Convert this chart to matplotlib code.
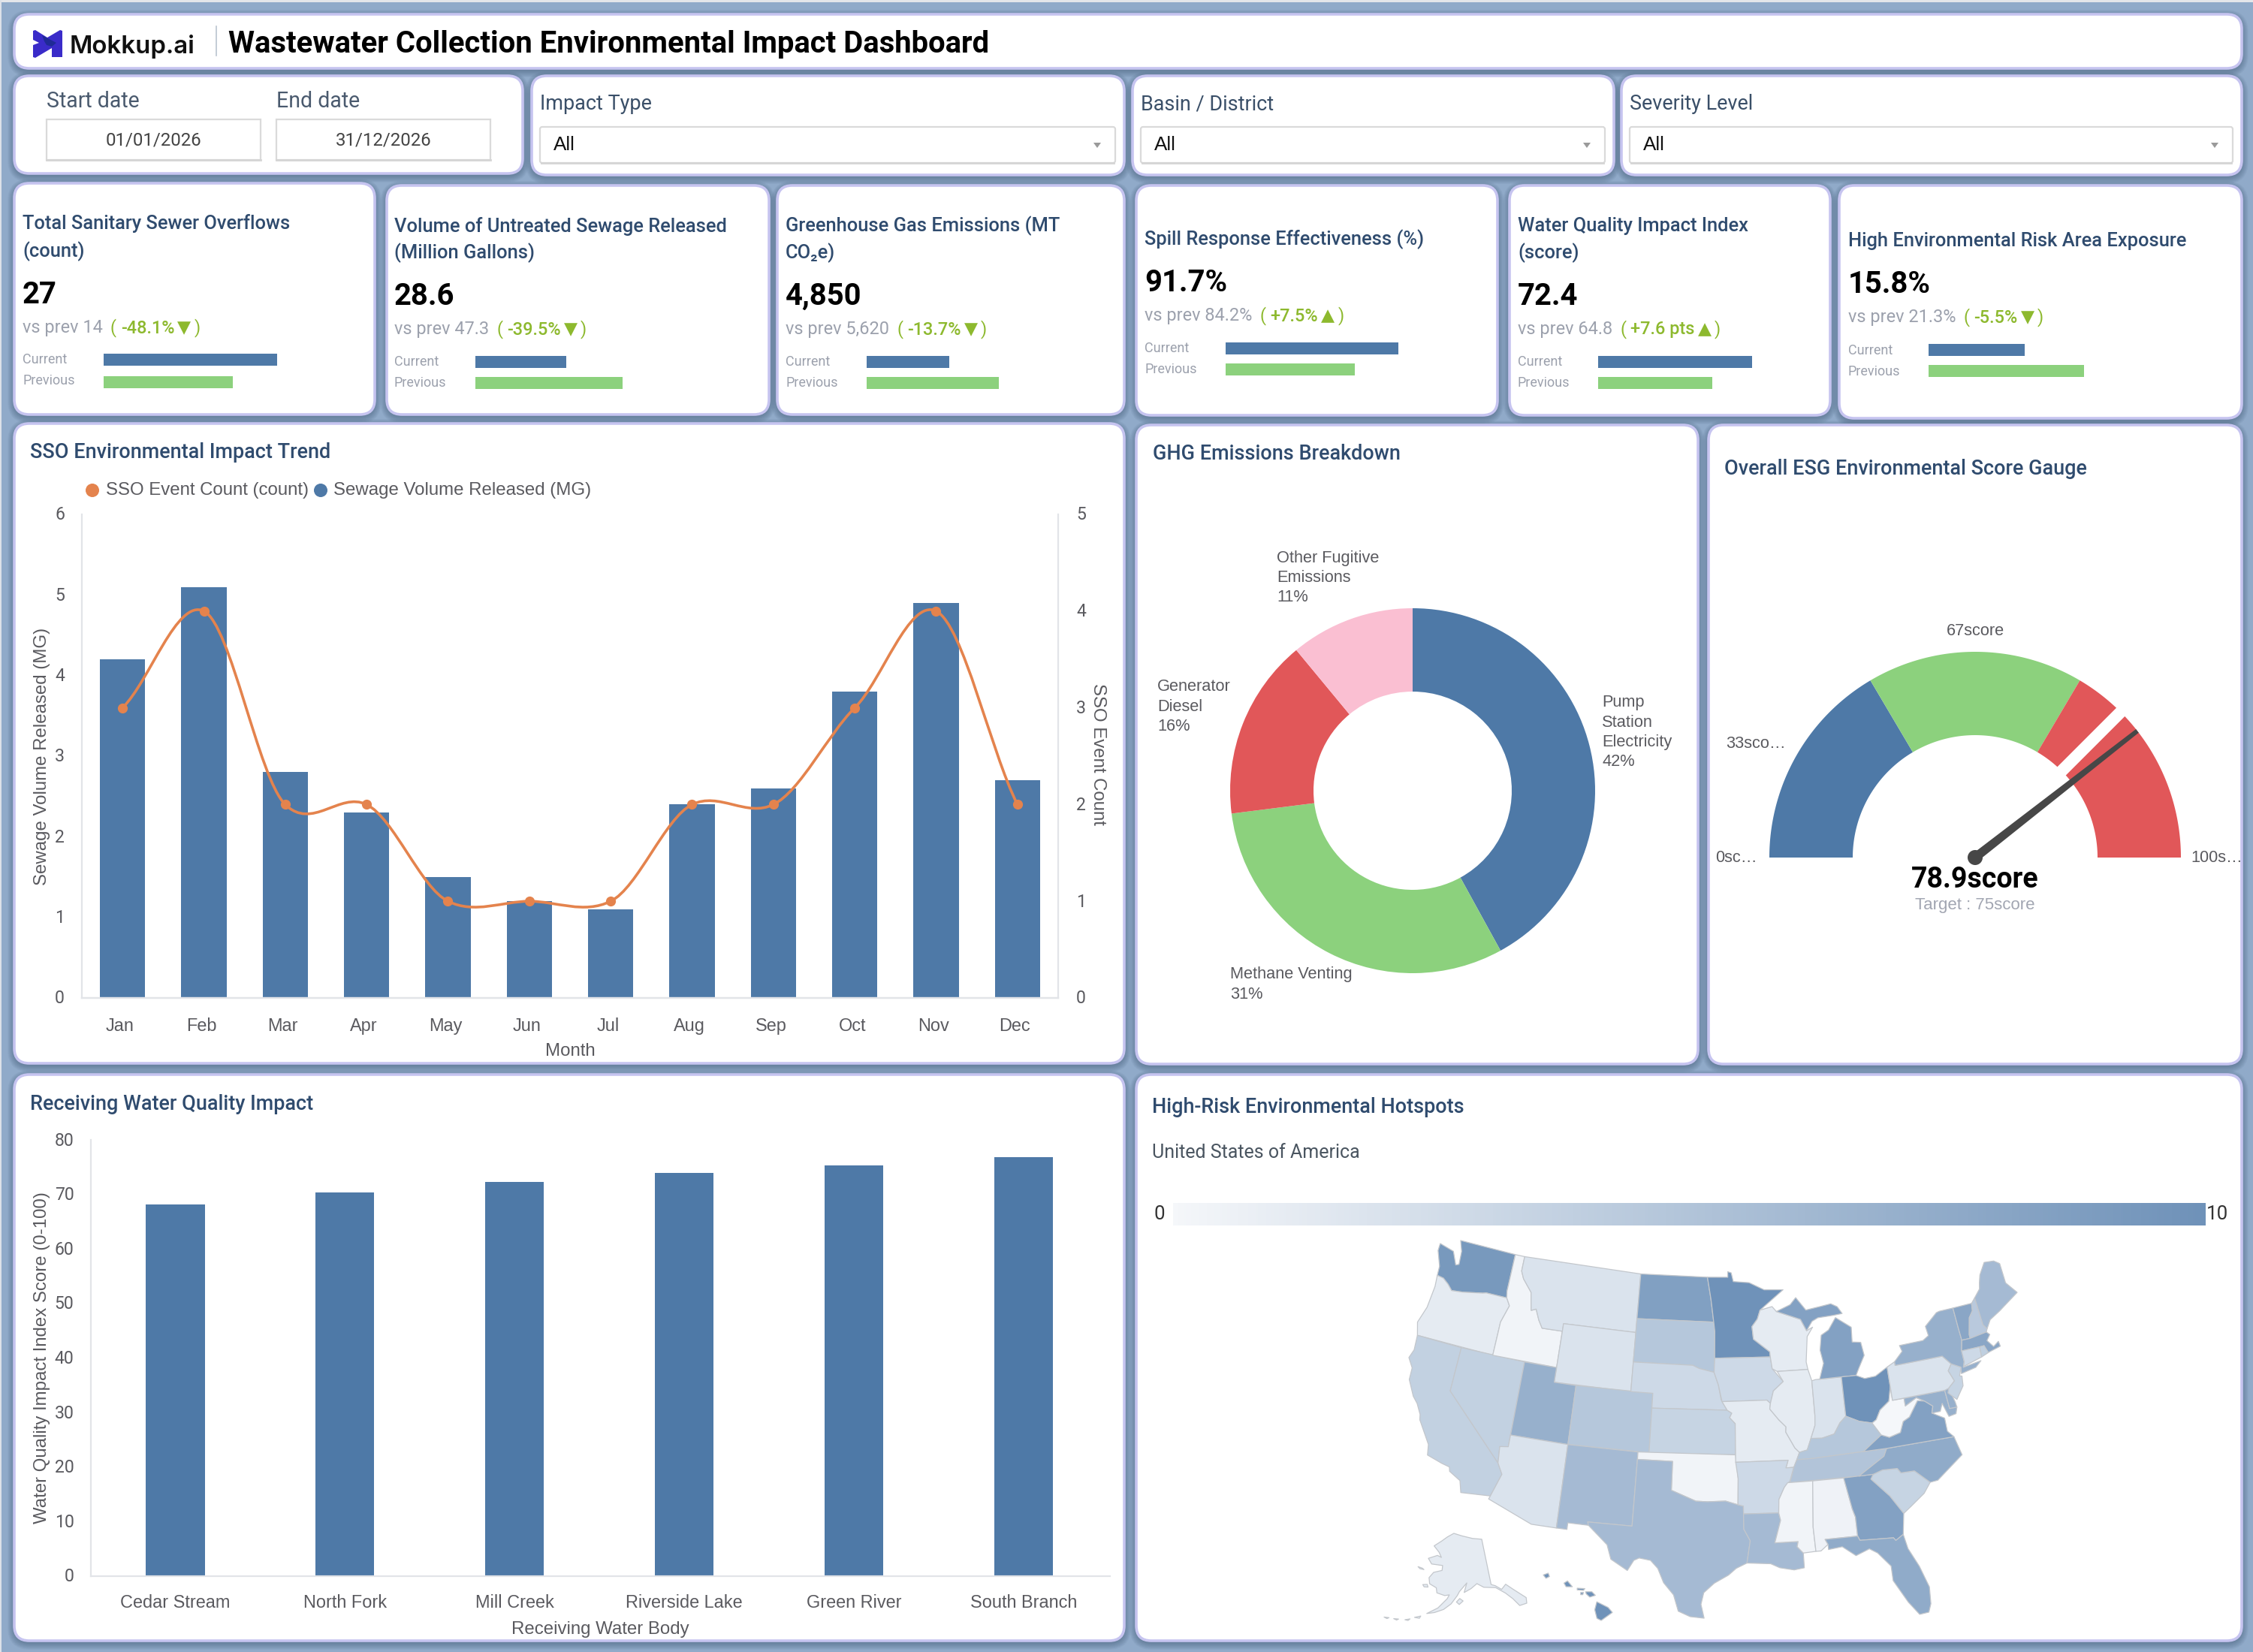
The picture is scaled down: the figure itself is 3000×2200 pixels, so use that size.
import numpy as np
import matplotlib
matplotlib.use("Agg")
import matplotlib.pyplot as plt
from matplotlib.patches import FancyBboxPatch, Polygon, Rectangle, Circle, PathPatch
from matplotlib.path import Path
from matplotlib.colors import LinearSegmentedColormap, Normalize
from matplotlib.transforms import ScaledTranslation

plt.rcParams['font.family'] = ['Roboto', 'DejaVu Sans']

BG = '#90AAC9'
EDGE = '#C6C4F0'
NAVY = '#2F4B6E'
BLUE = '#4E79A7'
GREEN = '#8CD17D'
RED = '#E15759'
PINK = '#FABFD2'
ORANGE = '#E4834D'
TREND = '#8DB92E'
GREY = '#9CA1AD'
AXIS_TXT = '#5A5A5F'
AXIS_LINE = '#E2E4E8'
ARIAL = 'Liberation Sans'

# kpi cards
kpi_titles = [['Total Sanitary Sewer Overflows', '(count)'],
              ['Volume of Untreated Sewage Released', '(Million Gallons)'],
              ['Greenhouse Gas Emissions (MT', 'CO₂e)'],
              ['Spill Response Effectiveness (%)'],
              ['Water Quality Impact Index', '(score)'],
              ['High Environmental Risk Area Exposure']]
kpi_values = ['27', '28.6', '4,850', '91.7%', '72.4', '15.8%']
kpi_prev = ['vs prev 14', 'vs prev 47.3', 'vs prev 5,620', 'vs prev 84.2%', 'vs prev 64.8', 'vs prev 21.3%']
kpi_delta = ['-48.1%', '-39.5%', '-13.7%', '+7.5%', '+7.6 pts', '-5.5%']
kpi_arrow = ['▼', '▼', '▼', '▲', '▲', '▼']
kpi_bar_current = [231, 121, 110, 230, 205, 128]
kpi_bar_previous = [172, 196, 176, 172, 152, 207]

# trend chart
months = ['Jan', 'Feb', 'Mar', 'Apr', 'May', 'Jun', 'Jul', 'Aug', 'Sep', 'Oct', 'Nov', 'Dec']
volume_mg = [4.2, 5.1, 2.8, 2.3, 1.5, 1.2, 1.1, 2.4, 2.6, 3.8, 4.9, 2.7]
event_count = [3, 4, 2, 2, 1, 1, 1, 2, 2, 3, 4, 2]

# ghg donut
ghg_labels = [['Pump', 'Station', 'Electricity', '42%'],
              ['Methane Venting', '31%'],
              ['Generator', 'Diesel', '16%'],
              ['Other Fugitive', 'Emissions', '11%']]
ghg_share = [42, 31, 16, 11]
ghg_colors = [BLUE, GREEN, RED, PINK]

# gauge
gauge_stops = [0, 33, 67, 100]
gauge_colors = [BLUE, GREEN, RED]
gauge_score = 78.9
gauge_target = 75

# water quality bars
water_bodies = ['Cedar Stream', 'North Fork', 'Mill Creek', 'Riverside Lake', 'Green River', 'South Branch']
water_scores = [68.1, 70.4, 72.3, 74.0, 75.3, 76.8]

# hotspot counts per state
state_values = {
    'WA': 9.3, 'OR': 1.2, 'CA': 3.8, 'NV': 3.8, 'ID': 0.3, 'MT': 2, 'WY': 2, 'UT': 7, 'CO': 4.8, 'AZ': 2, 'NM': 6,
    'ND': 8.6, 'SD': 4.8, 'NE': 3, 'KS': 3.5, 'OK': 0.3, 'TX': 6, 'MN': 10, 'IA': 3, 'MO': 1.2, 'AR': 3, 'LA': 6,
    'WI': 1.2, 'IL': 1.2, 'IN': 2, 'MIL': 8.5, 'MIU': 8.5, 'OH': 10, 'KY': 4.8, 'TN': 5, 'MS': 0.3, 'AL': 0.5,
    'GA': 8.5, 'FL': 7.5, 'SC': 3.5, 'NC': 7.5, 'VA': 8.5, 'WV': 0, 'MD': 7, 'DE': 7, 'PA': 2, 'NJ': 3.5,
    'NY': 7, 'VT': 8, 'NH': 4.5, 'ME': 6, 'MA': 8, 'CT': 3, 'RI': 4}
alaska_value = 1.2
hawaii_value = 10

# simplified state outlines, lon/lat
state_shapes = {
    'WA': [(-124.7,48.4),(-123.2,48.15),(-122.6,47.3),(-122.3,47.4),(-122.4,48.3),(-122.8,49.0),(-117.03,49.0),(-117.04,46.42),(-116.92,45.99),(-118.98,46.0),(-119.3,45.93),(-121.2,45.65),(-122.3,45.55),(-122.8,45.9),(-123.4,46.2),(-124.05,46.27),(-124.1,46.9),(-124.7,47.9)],
    'OR': [(-124.05,46.27),(-123.4,46.2),(-122.8,45.9),(-122.3,45.55),(-121.2,45.65),(-119.3,45.93),(-118.98,46.0),(-116.92,45.99),(-116.5,45.5),(-117.0,44.3),(-117.03,42.0),(-124.2,42.0),(-124.55,42.85),(-124.1,44.0),(-123.95,45.5)],
    'CA': [(-124.2,42.0),(-120.0,42.0),(-120.0,39.0),(-114.63,35.0),(-114.13,34.3),(-114.72,32.72),(-117.12,32.53),(-117.4,33.3),(-118.4,33.75),(-118.5,34.03),(-119.2,34.15),(-120.5,34.45),(-120.65,35.15),(-121.9,36.6),(-122.0,36.95),(-122.5,37.6),(-123.0,38.0),(-123.75,39.0),(-123.8,39.8),(-124.35,40.4),(-124.1,41.0)],
    'NV': [(-120,42),(-114.04,42),(-114.04,36.2),(-114.75,36.1),(-114.63,35.0),(-120,39)],
    'ID': [(-117.03,49),(-116.05,49),(-116.05,48.0),(-115.7,47.5),(-114.7,46.7),(-114.35,45.5),(-113.9,45.65),(-113.45,44.95),(-113.0,44.45),(-111.05,44.48),(-111.05,42),(-117.03,42),(-117,44.3),(-116.5,45.5),(-116.92,45.99),(-117.04,46.42)],
    'MT': [(-116.05,49),(-104.05,49),(-104.05,45),(-111.05,45),(-111.05,44.48),(-113,44.45),(-113.45,44.95),(-113.9,45.65),(-114.35,45.5),(-114.7,46.7),(-115.7,47.5),(-116.05,48)],
    'WY': [(-111.05,45),(-104.05,45),(-104.05,41),(-111.05,41)],
    'UT': [(-114.04,42),(-111.05,42),(-111.05,41),(-109.05,41),(-109.05,37),(-114.04,37)],
    'CO': [(-109.05,41),(-102.05,41),(-102.05,37),(-109.05,37)],
    'AZ': [(-114.04,37),(-109.05,37),(-109.05,31.33),(-111.07,31.33),(-114.81,32.5),(-114.72,32.72),(-114.13,34.3),(-114.63,35.0),(-114.75,36.1),(-114.04,36.2)],
    'NM': [(-109.05,37),(-103.0,37),(-103.04,32),(-106.62,32),(-106.53,31.78),(-108.2,31.78),(-108.2,31.33),(-109.05,31.33)],
    'ND': [(-104.05,49),(-97.23,49),(-96.85,47.5),(-96.56,45.94),(-104.05,45.94)],
    'SD': [(-104.05,45.94),(-96.56,45.94),(-96.45,45.3),(-96.45,43.5),(-96.5,42.55),(-97.9,42.8),(-98.5,43.0),(-104.05,43)],
    'NE': [(-104.05,43),(-98.5,43),(-97.9,42.8),(-96.5,42.55),(-96.1,41.7),(-95.85,40.7),(-95.31,40),(-102.05,40),(-102.05,41),(-104.05,41)],
    'KS': [(-102.05,40),(-95.31,40),(-94.9,39.8),(-95.1,39.5),(-94.61,39.1),(-94.62,37),(-102.05,37)],
    'OK': [(-103,37),(-94.62,37),(-94.43,35.4),(-94.48,33.64),(-95.5,33.9),(-97.0,33.85),(-97.95,33.88),(-99.2,34.3),(-100,34.56),(-100,36.5),(-103,36.5)],
    'TX': [(-106.62,32),(-103.04,32),(-103,36.5),(-100,36.5),(-100,34.56),(-99.2,34.3),(-97.95,33.88),(-97,33.85),(-95.5,33.9),(-94.48,33.64),(-94.04,33.55),(-94.04,33.02),(-94.04,31.99),(-93.55,31.2),(-93.85,29.7),(-94.7,29.35),(-95.3,28.9),(-96.4,28.35),(-97.2,27.7),(-97.4,26.9),(-97.15,25.96),(-98.2,26.05),(-99.1,26.4),(-99.5,27.5),(-100.3,28.3),(-100.8,29.25),(-101.4,29.77),(-102.3,29.88),(-102.7,29.7),(-103.15,28.98),(-104.5,29.65),(-104.9,30.6),(-106.53,31.78)],
    'MN': [(-97.23,49),(-95.15,49),(-95.15,49.38),(-94.8,49.3),(-94.6,48.7),(-93.0,48.6),(-91.5,48.07),(-89.6,48.0),(-92.0,46.7),(-92.3,46.1),(-92.85,45.6),(-92.75,44.75),(-91.25,43.85),(-91.22,43.5),(-96.45,43.5),(-96.45,45.3),(-96.56,45.94),(-96.85,47.5)],
    'IA': [(-96.45,43.5),(-91.22,43.5),(-91.1,42.7),(-90.15,41.8),(-91.1,41.2),(-91.42,40.38),(-91.73,40.61),(-95.77,40.58),(-96.1,41.7),(-96.5,42.55)],
    'MO': [(-95.77,40.58),(-91.73,40.61),(-91.42,40.38),(-91.5,40.0),(-90.75,39.25),(-90.15,38.75),(-90.2,38.4),(-89.5,37.3),(-89.13,36.98),(-89.4,36.5),(-89.7,36),(-90.37,36),(-90.15,36.5),(-94.62,36.5),(-94.62,37),(-94.61,39.1),(-95.1,39.5),(-94.9,39.8),(-95.31,40)],
    'AR': [(-94.62,36.5),(-90.15,36.5),(-90.37,36),(-89.7,36),(-90.1,35.1),(-90.6,34.7),(-91.1,33.9),(-91.17,33),(-94.04,33.02),(-94.04,33.55),(-94.48,33.64),(-94.43,35.4)],
    'LA': [(-94.04,33.02),(-91.17,33),(-91.05,32.5),(-91.6,31.0),(-89.75,31),(-89.85,30.65),(-89.4,30.2),(-89.4,29.8),(-89.4,29.2),(-90.2,29.1),(-91.3,29.3),(-92.0,29.6),(-93.85,29.7),(-93.55,31.2),(-94.04,31.99)],
    'WI': [(-92.0,46.7),(-90.8,46.9),(-90.4,46.55),(-88.1,45.9),(-87.6,45.1),(-87.0,45.3),(-87.6,44.7),(-87.9,43.0),(-87.8,42.49),(-90.65,42.5),(-91.1,42.7),(-91.22,43.5),(-91.25,43.85),(-92.75,44.75),(-92.85,45.6),(-92.3,46.1)],
    'IL': [(-90.65,42.5),(-87.8,42.49),(-87.53,41.7),(-87.53,39.35),(-87.6,38.7),(-88.05,37.85),(-88.45,37.1),(-89.13,36.98),(-89.5,37.3),(-90.2,38.4),(-90.15,38.75),(-90.75,39.25),(-91.5,40),(-91.42,40.38),(-91.1,41.2),(-90.15,41.8)],
    'IN': [(-87.53,41.7),(-87.2,41.76),(-84.8,41.76),(-84.82,39.1),(-85.4,38.7),(-86.0,38.0),(-87.1,37.8),(-88.05,37.85),(-87.6,38.7),(-87.53,39.35)],
    'MIL': [(-86.8,41.76),(-84.8,41.76),(-83.45,41.73),(-83.1,42.2),(-82.45,43.0),(-82.6,43.9),(-83.4,44.0),(-83.3,45.0),(-84.7,45.78),(-85.5,45.0),(-86.25,44.7),(-86.5,43.7),(-86.3,42.8)],
    'MIU': [(-90.4,46.55),(-89.0,46.95),(-88.4,47.4),(-87.5,46.5),(-86.0,46.65),(-85.0,46.75),(-84.4,46.5),(-84.0,46.0),(-84.9,45.95),(-86.4,45.9),(-87.0,45.7),(-87.6,45.1),(-88.1,45.9)],
    'OH': [(-84.8,41.76),(-83.45,41.73),(-82.7,41.45),(-81.7,41.5),(-80.52,41.98),(-80.52,40.64),(-80.85,39.7),(-81.75,39.2),(-82.2,38.6),(-82.6,38.42),(-83.7,38.65),(-84.82,39.1)],
    'KY': [(-89.13,36.98),(-88.45,37.1),(-88.05,37.85),(-87.1,37.8),(-86,38),(-85.4,38.7),(-84.82,39.1),(-83.7,38.65),(-82.6,38.42),(-81.97,37.54),(-83.67,36.6),(-88.07,36.5),(-89.4,36.5)],
    'TN': [(-89.7,36),(-89.4,36.5),(-88.07,36.5),(-83.67,36.6),(-81.68,36.59),(-82.0,36.1),(-84.32,35.0),(-90.1,35.0)],
    'MS': [(-90.3,35),(-88.2,35),(-88.47,31.9),(-88.4,30.25),(-89.4,30.2),(-89.85,30.65),(-89.75,31),(-91.6,31),(-91.05,32.5),(-91.17,33),(-91.1,33.9),(-90.6,34.7)],
    'AL': [(-88.2,35),(-85.6,35),(-85.18,32.87),(-85.0,32.3),(-85.0,31.0),(-87.6,31.0),(-87.4,30.65),(-88.0,30.25),(-88.4,30.25),(-88.47,31.9)],
    'GA': [(-85.6,35),(-83.1,35),(-83.35,34.7),(-82.0,33.4),(-81.1,32.1),(-81.4,30.7),(-82.05,30.37),(-82.2,30.57),(-84.86,30.7),(-85.0,31),(-85,32.3),(-85.18,32.87)],
    'FL': [(-87.6,31),(-85,31),(-84.86,30.7),(-82.2,30.57),(-82.05,30.37),(-81.4,30.7),(-81.2,29.7),(-80.55,28.4),(-80.05,26.9),(-80.15,25.75),(-80.4,25.2),(-81.1,25.15),(-81.8,26.1),(-82.7,27.7),(-82.7,28.7),(-83.6,29.7),(-84.2,30.05),(-85.3,29.7),(-86.3,30.4),(-87.4,30.3),(-87.4,30.65)],
    'SC': [(-83.35,34.7),(-83.1,35),(-82.3,35.2),(-81.05,35.15),(-80.8,34.82),(-79.67,34.8),(-78.55,33.86),(-79.2,33.2),(-80.4,32.5),(-81.1,32.1),(-82,33.4)],
    'NC': [(-84.32,35),(-82,36.1),(-81.68,36.59),(-75.85,36.55),(-75.5,35.25),(-76.5,34.7),(-77.9,33.9),(-78.55,33.86),(-79.67,34.8),(-80.8,34.82),(-81.05,35.15),(-82.3,35.2),(-83.1,35)],
    'VA': [(-83.67,36.6),(-81.97,37.54),(-81.3,37.3),(-80.3,37.5),(-79.9,38.2),(-79.3,38.42),(-78.35,39.4),(-77.75,39.3),(-77.1,38.85),(-77.3,38.4),(-76.3,37.9),(-76.3,37.0),(-75.85,36.55),(-81.68,36.59)],
    'WV': [(-81.97,37.54),(-82.6,38.42),(-82.2,38.6),(-81.75,39.2),(-80.85,39.7),(-80.52,40.64),(-80.52,39.72),(-79.48,39.72),(-79.48,39.2),(-78.4,39.62),(-77.75,39.3),(-78.35,39.4),(-79.3,38.42),(-79.9,38.2),(-80.3,37.5),(-81.3,37.3)],
    'MD': [(-79.48,39.72),(-75.79,39.72),(-75.7,38.46),(-75.05,38.45),(-75.25,38.03),(-75.9,37.95),(-76.25,38.9),(-76.55,38.4),(-77.3,38.4),(-77.1,38.85),(-77.75,39.3),(-78.4,39.62),(-79.48,39.2)],
    'DE': [(-75.79,39.72),(-75.4,39.8),(-75.1,38.8),(-75.05,38.45),(-75.7,38.46)],
    'PA': [(-80.52,41.98),(-79.76,42.25),(-79.76,42),(-75.35,42),(-74.7,41.36),(-75.1,40.95),(-74.75,40.2),(-75.4,39.8),(-75.79,39.72),(-80.52,39.72)],
    'NJ': [(-74.7,41.36),(-73.9,41.0),(-74.2,40.45),(-74.0,40.4),(-74.1,39.75),(-74.9,38.95),(-75.55,39.5),(-75.4,39.8),(-74.75,40.2),(-75.1,40.95)],
    'NY': [(-79.76,42.25),(-78.9,42.85),(-79.05,43.27),(-76.8,43.3),(-76.2,43.55),(-76.3,44.2),(-75.0,44.95),(-74.7,45.0),(-73.35,45.0),(-73.3,43.6),(-73.25,42.75),(-73.5,42.05),(-73.5,41.3),(-73.7,40.95),(-72.0,41.1),(-72.6,40.75),(-74.0,40.57),(-73.9,41.0),(-74.7,41.36),(-75.35,42),(-79.76,42)],
    'VT': [(-73.35,45),(-71.5,45),(-71.6,44.5),(-72.05,44.1),(-72.45,43),(-72.46,42.73),(-73.25,42.75),(-73.3,43.6)],
    'NH': [(-71.5,45),(-71.08,45.3),(-70.98,43.4),(-70.7,43.07),(-70.85,42.87),(-72.46,42.73),(-72.45,43),(-72.05,44.1),(-71.6,44.5)],
    'ME': [(-71.08,45.3),(-70.4,45.8),(-70.25,46.2),(-70.0,46.7),(-69.25,47.45),(-68.3,47.36),(-67.8,47.07),(-67.8,45.7),(-67.0,44.85),(-68.5,44.25),(-69.1,44.0),(-70.2,43.6),(-70.7,43.07),(-70.98,43.4)],
    'MA': [(-73.5,42.05),(-73.25,42.75),(-72.46,42.73),(-70.85,42.87),(-70.6,42.65),(-71.0,42.3),(-70.55,41.8),(-70.0,42.05),(-69.95,41.7),(-71.2,41.5),(-71.38,42.02),(-71.8,42.02)],
    'CT': [(-73.5,42.05),(-71.8,42.02),(-71.85,41.33),(-73.65,41.0),(-73.5,41.3)],
    'RI': [(-71.8,42.02),(-71.38,42.02),(-71.15,41.5),(-71.85,41.33)],
}
alaska_shapes = [
    [(-141,69.65),(-141,60.3),(-139.5,59.9),(-137.5,58.9),(-135.5,59.7),(-133.5,58.4),(-130.0,55.9),(-130.5,54.8),(-133,54.8),(-134.5,56.5),(-136.5,58),(-139.5,59.5),(-144,60),(-146.5,60.9),(-149,60),(-151.7,59.3),(-150.5,61.2),(-153.5,59.5),(-154.3,58.7),(-156.5,57),(-159,55.8),(-162,55),(-164.5,54.6),(-161,56),(-158,58),(-157.3,58.8),(-159,58.6),(-162,59),(-162.5,60),(-165.3,60.6),(-166,61.8),(-164.5,63),(-161,63.6),(-161,64.6),(-166,64.6),(-168,65.6),(-164,66.5),(-162,66.2),(-163.5,67.2),(-166.5,68.3),(-163,69.5),(-160,70.5),(-156.5,71.3),(-152,70.8),(-146,70.1)],
    [(-154.6,57.4),(-153.4,58.1),(-152.2,57.6),(-153.6,56.9)],
    [(-171.6,63.5),(-169.6,63.4),(-168.8,63.2),(-170.6,63.2)],
    [(-167.9,60.2),(-166.2,60.4),(-165.7,59.9),(-167.2,59.8)],
    [(-168.2,53.4),(-166.3,53.9),(-166.6,53.4)],
    [(-171,52.5),(-169.5,52.9),(-170,52.5)],
    [(-174.5,52.1),(-173,52.3),(-173.5,52.0)],
    [(-177.5,51.8),(-176,52.0),(-176.5,51.7)],
]
hawaii_shapes = [
    [(-159.75,22.1),(-159.4,22.23),(-159.3,22.0),(-159.55,21.87)],
    [(-158.25,21.55),(-158.0,21.7),(-157.65,21.3),(-158.1,21.3)],
    [(-157.3,21.2),(-156.75,21.17),(-156.85,21.05),(-157.3,21.08)],
    [(-157.05,20.9),(-156.85,20.9),(-156.9,20.75),(-157.05,20.75)],
    [(-156.7,20.95),(-156.25,20.95),(-156,20.7),(-156.4,20.58),(-156.65,20.8)],
    [(-155.9,20.25),(-155.1,19.85),(-154.8,19.5),(-155.6,18.95),(-155.9,19.1),(-156.05,19.7)],
]

fig = plt.figure(figsize=(30, 22), dpi=100, facecolor=BG)
page = fig.add_axes([0, 0, 1, 1])
page.set_xlim(0, 3000)
page.set_ylim(2200, 0)
page.axis('off')


def px(size):
    return size * 0.72


def T(x, y, s, size, color='black', ha='left', va='center', weight='normal', family=None, rotation=0):
    # rows are given as glyph centres, the box centre sits a little higher
    return page.text(x, y + (0 if rotation else 2), s, fontsize=px(size), color=color, ha=ha, va=va, fontweight=weight,
                     family=family if family else ['Roboto', 'DejaVu Sans'], rotation=rotation,
                     rotation_mode='anchor' if rotation else 'default')


def card(x0, y0, x1, y1):
    for grow in range(10, 0, -1):
        page.add_patch(FancyBboxPatch((x0 - grow + 1, y0 - grow + 4), x1 - x0 + 2 * grow - 2, y1 - y0 + 2 * grow - 2,
                                      boxstyle='round,pad=0,rounding_size=%d' % (20 + grow),
                                      fc='#3C566F', ec='none', alpha=0.055, zorder=1))
    page.add_patch(FancyBboxPatch((x0, y0), x1 - x0, y1 - y0, boxstyle='round,pad=0,rounding_size=20',
                                  fc='white', ec=EDGE, lw=2.6, zorder=2))


def inset(x0, y0, x1, y1):
    a = fig.add_axes([x0 / 3000, 1 - y1 / 2200, (x1 - x0) / 3000, (y1 - y0) / 2200])
    a.patch.set_alpha(0)
    return a


def style_axis(a):
    a.tick_params(length=0)
    for side in a.spines:
        a.spines[side].set_color(AXIS_LINE)
        a.spines[side].set_linewidth(1.6)


def nudge(labels, dx, dy):
    # call after tick_params, that resets the label transforms
    off = ScaledTranslation(dx / 100, dy / 100, fig.dpi_scale_trans)
    for lab in labels:
        lab.set_transform(lab.get_transform() + off)


def smooth_path(xs, ys, k=0.55):
    # bezier through the points, tangents taken from the neighbours
    xs = np.asarray(xs, float)
    ys = np.asarray(ys, float)
    m = np.zeros(len(ys))
    m[1:-1] = (ys[2:] - ys[:-2]) / 2 * k
    m[0] = (ys[1] - ys[0]) * k
    m[-1] = (ys[-1] - ys[-2]) * k
    verts = [(xs[0], ys[0])]
    codes = [Path.MOVETO]
    for i in range(len(xs) - 1):
        verts += [(xs[i] + 1 / 3, ys[i] + m[i] / 3 * 1.5), (xs[i + 1] - 1 / 3, ys[i + 1] - m[i + 1] / 3 * 1.5), (xs[i + 1], ys[i + 1])]
        codes += [Path.CURVE4, Path.CURVE4, Path.CURVE4]
    return Path(verts, codes)


# page chrome
page.add_patch(Rectangle((0, 0), 3000, 3, fc='#E4E6EA', ec='none', zorder=0))
page.add_patch(Rectangle((0, 0), 2, 2200, fc='#DDE1E8', ec='none', zorder=0))

cards = [(19, 19, 2985, 91), (19, 101, 696, 231), (708, 101, 1497, 233), (1508, 101, 2149, 233), (2159, 101, 2985, 233),
         (19, 244, 499, 552), (515, 247, 1024, 552), (1035, 247, 1497, 552), (1513, 247, 1994, 553), (2010, 247, 2437, 553),
         (2449, 247, 2985, 557), (19, 564, 1497, 1416), (1513, 566, 2261, 1417), (2275, 566, 2985, 1417),
         (19, 1431, 1497, 2185), (1513, 1431, 2985, 2185)]
for c in cards:
    card(*c)

# header
page.add_patch(Polygon([(44, 41), (47, 40), (63, 50), (80, 40), (83, 41), (83, 76), (69, 76), (69, 64), (47, 77), (44, 76),
                        (44, 60), (52, 57), (44, 53)], fc='#3A2BC9', ec='none', zorder=3))
page.add_patch(Polygon([(56, 47), (75, 57), (69, 62), (62, 60), (59, 55)], fc='#1F2A96', ec='none', zorder=3))
T(93, 60, 'Mokkup.ai', 33, '#111111', weight='semibold', family='Inter')
page.plot([288, 288], [35, 74], color='#B9C4CF', lw=1.2, zorder=3)
T(304, 56.5, 'Wastewater Collection Environmental Impact Dashboard', 40, 'black', weight='bold')

# filters
T(62, 133, 'Start date', 28.5, '#4A5A6E')
T(368, 133, 'End date', 28.5, '#4A5A6E')
for x0, x1, s in [(62, 347, '01/01/2026'), (368, 653, '31/12/2026')]:
    page.add_patch(Rectangle((x0, 159), x1 - x0, 54, fc='white', ec='#DADADA', lw=1.6, zorder=3))
    page.plot([x0, x1], [213, 213], color='#D5D5D5', lw=2, zorder=3)
    T((x0 + x1) / 2, 185, s, 24, '#444444', ha='center')
filter_boxes = [(719, 1485, 'Impact Type'), (1519, 2137, 'Basin / District'), (2170, 2973, 'Severity Level')]
for x0, x1, s in filter_boxes:
    T(x0, 137, s, 27, '#3A4F68')
    page.add_patch(FancyBboxPatch((x0, 169), x1 - x0, 48, boxstyle='round,pad=0,rounding_size=3', fc='white', ec='#DADADA', lw=1.6, zorder=3))
    page.plot([x0 + 2, x1 - 2], [217, 217], color='#D5D5D5', lw=2, zorder=3)
    T(x0 + 18, 191, 'All', 26, '#111111', family=ARIAL)
    page.add_patch(Polygon([(x1 - 29, 190), (x1 - 19, 190), (x1 - 24, 197)], fc='#9A9A9A', ec='none', zorder=3))

# kpi cards: text left edge, bar left edge, title rows, value row, delta row, bar rows
kpi_layout = [(30, 138, [296, 333], 391, 435, (477, 505), (471, 501)),
              (525, 633, [299, 335], 393, 437, (480, 508), (474, 502)),
              (1046, 1154, [299, 335], 393, 437, (480, 508), (474, 502)),
              (1524, 1632, [317], 375, 419, (462, 490), (456, 484)),
              (2021, 2128, [299, 335], 393, 437, (480, 508), (474, 502)),
              (2461, 2568, [319], 377, 421, (465, 493), (458, 486))]
fig.canvas.draw()
rend = fig.canvas.get_renderer()
for i, (tx, bx, rows, vy, dy, ly, by) in enumerate(kpi_layout):
    for row, line in zip(rows, kpi_titles[i]):
        T(tx, row, line, 25.5, NAVY, weight='medium')
    T(tx, vy, kpi_values[i], 40, 'black', weight='bold')
    cur = T(tx, dy, kpi_prev[i], 23.5, GREY)
    # delta runs on from wherever the previous text ended
    inv = page.transData.inverted()
    xpos = inv.transform(cur.get_window_extent(rend))[1][0] + 10
    for piece, gap in [('(', 6), (kpi_delta[i], 4), (kpi_arrow[i], 4), (')', 0)]:
        t = T(xpos, dy, piece, 23.5, TREND, weight='medium' if piece not in '()' else 'normal')
        xpos = inv.transform(t.get_window_extent(rend))[1][0] + gap
    T(tx, ly[0], 'Current', 18, GREY)
    T(tx, ly[1], 'Previous', 18, GREY)
    page.barh(by[0] + 8, kpi_bar_current[i], left=bx, height=16, color=BLUE, zorder=3)
    page.barh(by[1] + 8, kpi_bar_previous[i], left=bx, height=16, color=GREEN, zorder=3)

# trend chart
T(40, 600, 'SSO Environmental Impact Trend', 27, NAVY, weight='medium')
page.add_patch(Circle((123, 653), 9, fc=ORANGE, ec='none', zorder=3))
T(141, 651.5, 'SSO Event Count (count)', 24, AXIS_TXT, family=ARIAL)
page.add_patch(Circle((427, 653), 9, fc=BLUE, ec='none', zorder=3))
T(444, 651.5, 'Sewage Volume Released (MG)', 24, AXIS_TXT, family=ARIAL)

ax = inset(109, 685, 1409, 1329)
pos = np.arange(len(months))
ax.bar(pos, volume_mg, width=0.555, color=BLUE, zorder=2)
ax.set_xlim(-0.5, 11.5)
ax.set_ylim(0, 6)
ax.set_yticks(range(7))
ax.set_xticks(pos)
ax.set_xticklabels(months, fontsize=px(23.5), color=AXIS_TXT, family=ARIAL)
ax.tick_params(axis='x', pad=px(26))
ax.tick_params(axis='y', pad=px(23), labelsize=px(23), labelcolor=AXIS_TXT)
style_axis(ax)
nudge(ax.get_xticklabels(), -3.5, 0)
nudge(ax.get_yticklabels(), 0, 1.5)
ax.spines['top'].set_visible(False)
ax.spines['right'].set_visible(False)
ax2 = ax.twinx()
ax2.patch.set_alpha(0)
ax2.set_ylim(0, 5)
ax2.set_yticks(range(6))
ax2.tick_params(axis='y', pad=px(24), labelsize=px(23), labelcolor=AXIS_TXT)
style_axis(ax2)
nudge(ax2.get_yticklabels(), 0, 1.5)
ax2.spines['top'].set_visible(False)
ax2.spines['left'].set_visible(False)
ax2.add_patch(PathPatch(smooth_path(pos, event_count), fc='none', ec=ORANGE, lw=2.6, zorder=4))
ax2.plot(pos, event_count, ls='none', marker='o', ms=8.5, color=ORANGE, zorder=5)
T(56, 1007, 'Sewage Volume Released (MG)', 24, AXIS_TXT, ha='center', family=ARIAL, rotation=90)
T(1462, 1004, 'SSO Event Count', 24, AXIS_TXT, ha='center', family=ARIAL, rotation=270)
T(759, 1398, 'Month', 24, AXIS_TXT, ha='center', family=ARIAL)

# ghg donut
T(1535, 602, 'GHG Emissions Breakdown', 27, NAVY, weight='medium')
donut = inset(1881 - 243, 1053 - 243, 1881 + 243, 1053 + 243)
donut.pie(ghg_share, colors=ghg_colors, startangle=90, counterclock=False, radius=1,
          wedgeprops={'width': 1 - 132 / 243, 'linewidth': 0})
donut.set_xlim(-1, 1)
donut.set_ylim(-1, 1)
ghg_label_pos = [(2133, 936), (1638, 1298), (1541, 915), (1700, 743)]
for (lx, ly), lines in zip(ghg_label_pos, ghg_labels):
    for k, line in enumerate(lines):
        T(lx, ly + k * 26.3 - 2, line, 21.8, AXIS_TXT, family=ARIAL)

# gauge
T(2296, 623, 'Overall ESG Environmental Score Gauge', 27, NAVY, weight='medium')
gx, gy, r_out, r_in = 2630, 1142, 274, 163


def gauge_angle(v):
    return np.pi * (1 - v / gauge_stops[-1])


def ring(v0, v1, ri, ro, color, z=3):
    a = np.linspace(gauge_angle(v0), gauge_angle(v1), 80)
    pts = np.r_[np.c_[gx + ro * np.cos(a), gy - ro * np.sin(a)],
                np.c_[gx + ri * np.cos(a[::-1]), gy - ri * np.sin(a[::-1])]]
    page.add_patch(Polygon(pts, fc=color, ec='none', zorder=z))


for j, col in enumerate(gauge_colors):
    ring(gauge_stops[j], gauge_stops[j + 1], r_in, r_out, col)
ta = gauge_angle(gauge_target)
page.plot([gx + (r_in - 4) * np.cos(ta), gx + (r_out + 4) * np.cos(ta)],
          [gy - (r_in - 4) * np.sin(ta), gy - (r_out + 4) * np.sin(ta)], color='white', lw=11.5, solid_capstyle='butt', zorder=4)
na = gauge_angle(gauge_score)
ux, uy = np.cos(na), -np.sin(na)
vx, vy = -uy, ux
page.add_patch(Polygon([(gx + 6 * vx, gy + 6 * vy), (gx + r_out * ux + 3 * vx, gy + r_out * uy + 3 * vy),
                        (gx + r_out * ux - 3 * vx, gy + r_out * uy - 3 * vy), (gx - 6 * vx, gy - 6 * vy)],
                       fc='#474747', ec='none', zorder=5))
page.add_patch(Circle((gx, gy), 10, fc='#474747', ec='none', zorder=5))
T(2630, 838, '67score', 21.8, AXIS_TXT, ha='center', family=ARIAL)
T(2338, 989, '33sco…', 21.8, AXIS_TXT, ha='center', family=ARIAL)
T(2312, 1141, '0sc…', 21.8, AXIS_TXT, ha='center', family=ARIAL)
T(2952, 1141, '100s…', 21.8, AXIS_TXT, ha='center', family=ARIAL)
T(2630, 1169, '78.9score', 37.5, 'black', ha='center', weight='bold')
T(2630, 1204, 'Target : 75score', 22.3, '#A2A6B2', ha='center', family=ARIAL)

# water quality bars
T(40, 1468.5, 'Receiving Water Quality Impact', 27, NAVY, weight='medium')
bx = inset(120.5, 1518, 1478, 2099)
bpos = np.arange(len(water_bodies))
bx.bar(bpos, water_scores, width=0.347, color=BLUE, zorder=2)
bx.set_xlim(-0.5, 5.51)
bx.set_ylim(0, 80)
bx.set_yticks(range(0, 81, 10))
bx.set_xticks(bpos)
bx.set_xticklabels(water_bodies, fontsize=px(23.5), color=AXIS_TXT, family=ARIAL)
bx.tick_params(axis='x', pad=px(24))
bx.tick_params(axis='y', pad=px(22), labelsize=px(23), labelcolor=AXIS_TXT)
style_axis(bx)
nudge(bx.get_yticklabels(), 0, 1.5)
bx.spines['top'].set_visible(False)
bx.spines['right'].set_visible(False)
T(56, 1808, 'Water Quality Impact Index Score (0-100)', 24, AXIS_TXT, ha='center', family=ARIAL, rotation=90)
T(799, 2168, 'Receiving Water Body', 24, AXIS_TXT, ha='center', family=ARIAL)

# hotspot map
T(1534, 1472.5, 'High-Risk Environmental Hotspots', 27, NAVY, weight='medium')
T(1534, 1532.5, 'United States of America', 25, '#4A5560')
hot_cmap = LinearSegmentedColormap.from_list('hot_blue', ['#F5F7FA', '#6F92B9'])
hot_norm = Normalize(0, 10)
scale_ax = inset(1562, 1602, 2936, 1632)
scale_ax.imshow(np.linspace(0, 1, 400)[None, :], aspect='auto', cmap=hot_cmap)
scale_ax.axis('off')
T(1544, 1614.5, '0', 26, '#333333', ha='center')
T(2952, 1614.5, '10', 26, '#333333', ha='center')


def albers(shape, lon0, lat0, sp1, sp2):
    pts = np.radians(np.array(shape, float))
    p1, p2, l0, f0 = np.radians([sp1, sp2, lon0, lat0])
    n = (np.sin(p1) + np.sin(p2)) / 2
    c = np.cos(p1) ** 2 + 2 * n * np.sin(p1)
    rho = np.sqrt(c - 2 * n * np.sin(pts[:, 1])) / n
    rho0 = np.sqrt(c - 2 * n * np.sin(f0)) / n
    th = n * (pts[:, 0] - l0)
    return np.c_[rho * np.sin(th), rho0 - rho * np.cos(th)]


def draw_group(shapes, values, box, lon0, lat0, sp1, sp2):
    proj = [albers(s, lon0, lat0, sp1, sp2) for s in shapes]
    allp = np.vstack(proj)
    lo, hi = allp.min(axis=0), allp.max(axis=0)
    for p, v in zip(proj, values):
        x = box[0] + (p[:, 0] - lo[0]) / (hi[0] - lo[0]) * (box[1] - box[0])
        y = box[3] - (p[:, 1] - lo[1]) / (hi[1] - lo[1]) * (box[3] - box[2])
        page.add_patch(Polygon(np.c_[x, y], fc=hot_cmap(hot_norm(v)), ec='#C3C7CC', lw=0.9, joinstyle='round', zorder=3))


names = list(state_shapes)
draw_group([state_shapes[n] for n in names], [state_values[n] for n in names], (1876, 2686, 1652, 2155), -96, 37.5, 29.5, 45.5)
draw_group(alaska_shapes, [alaska_value] * len(alaska_shapes), (1843, 2033, 2042, 2158), -154, 50, 55, 65)
draw_group(hawaii_shapes, [hawaii_value] * len(hawaii_shapes), (2055, 2147, 2095, 2158), -157, 20, 19, 22)

page.set_zorder(0)
fig.savefig('out.png', dpi=100, facecolor=BG)
